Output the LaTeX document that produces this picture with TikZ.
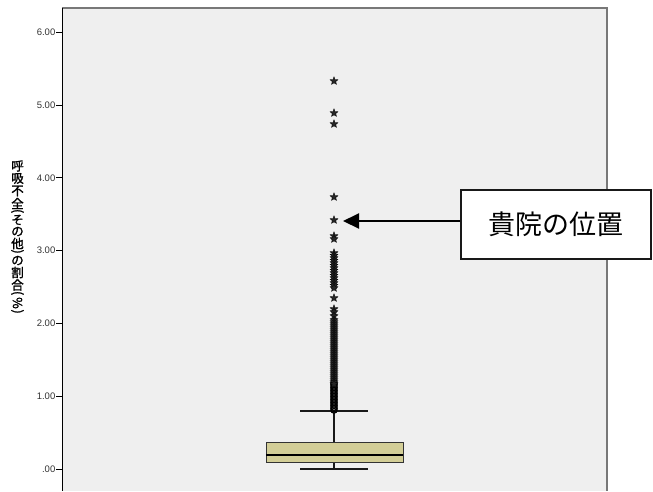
\documentclass[tikz,border=0pt]{standalone}
\usepackage{fontspec}
\usepackage{graphicx}
\setmainfont{Liberation Sans}
\newfontfamily\jp{Noto Sans CJK JP}
\newfontfamily\jpb{Noto Sans CJK JP}[FakeBold=1.5]
\usetikzlibrary{shapes.geometric,arrows.meta}
\definecolor{plotbg}{RGB}{239,239,239}
\definecolor{framegray}{RGB}{120,120,120}
\definecolor{boxtan}{RGB}{211,206,151}
\newcommand\vrot[1]{\rotatebox[origin=c]{-90}{#1}}
\tikzset{
  ticklab/.style={anchor=east, inner sep=0pt, font=\fontsize{9.5}{11}\selectfont, text=black!80},
  ylab/.style={inner sep=0pt, font=\jpb\fontsize{12.5}{14}\selectfont},
  starpt/.style={star, star points=5, star point ratio=2.3, minimum size=8.5pt, inner sep=0pt, fill=black!85, draw=black, line width=0.3pt},
  circpt/.style={circle, minimum size=6.5pt, inner sep=0pt, draw=black, line width=1pt},
  whisker/.style={line width=1.2pt, draw=black!90},
  callout/.style={draw=black!90, line width=1.6pt, fill=white, minimum width=190pt, minimum height=69pt, inner sep=0pt, font=\jp\fontsize{27}{31}\selectfont},
  arrowline/.style={line width=2pt, -{Triangle[length=16pt,width=15pt]}}
}
\begin{document}
\begin{tikzpicture}[x=1pt,y=-1pt]
\useasboundingbox (0,0) rectangle (653,491);
\fill[white] (0,0) rectangle (653,491);
% plot area
\fill[plotbg] (62,8) rectangle (607,491);
\draw[framegray, line width=2pt] (62,8) -- (607,8) -- (607,491);
\draw[black, line width=1pt] (62,8) -- (62,491);
% ticks
\foreach \v/\lab [count=\i] in {0/.00,1/1.00,2/2.00,3/3.00,4/4.00,5/5.00,6/6.00} {
  \draw[black, line width=1pt] (56,469-72.8*\v) -- (62,469-72.8*\v);
  \node[ticklab] (tick\i) at (55.5,469-72.8*\v) {\lab};
}
% y axis label (vertical)
\node[ylab] (l1) at (17.5,166) {呼};
\node[ylab] (l2) at (17.5,178.5) {吸};
\node[ylab] (l3) at (17.5,191) {不};
\node[ylab] (l4) at (17.5,203.5) {全};
\node[ylab] (l5) at (17.5,212) {\vrot{(}};
\node[ylab] (l6) at (17.5,220) {そ};
\node[ylab] (l7) at (17.5,231.5) {の};
\node[ylab] (l8) at (17.5,243.5) {他};
\node[ylab] (l9) at (17.5,252.5) {\vrot{)}};
\node[ylab] (l10) at (17.5,260.5) {の};
\node[ylab] (l11) at (17.5,272.5) {割};
\node[ylab] (l12) at (17.5,285) {合};
\node[ylab] (l13) at (17.5,294) {\vrot{(}};
\node[ylab] (l14) at (17.5,303) {\vrot{\%}};
\node[ylab] (l15) at (17.5,312.5) {\vrot{)}};
% box plot
\draw[whisker] (334,411) -- (334,442);
\draw[whisker] (334,462) -- (334,469);
\draw[whisker] (300,411) -- (368,411);
\draw[whisker] (300,469) -- (368,469);
\filldraw[fill=boxtan, draw=black!80, line width=1pt] (266,442) rectangle (403,462);
\draw[black, line width=2.8pt] (266,455) -- (403,455);
% outliers (circles)
\foreach \yy [count=\i] in {383,384.5,...,411} {
  \node[circpt] (c\i) at (334,\yy) {};
}
% extreme values (stars)
\foreach \yy [count=\i] in {81,113,124,197,220,236,239,298,309,312,316} {
  \node[starpt] (s\i) at (334,\yy) {};
}
\foreach \yy [count=\i] in {253,255.5,...,290} {
  \node[starpt] (sa\i) at (334,\yy) {};
}
\foreach \yy [count=\i] in {320,322,...,384} {
  \node[starpt] (sb\i) at (334,\yy) {};
}
% callout
\node[callout] (callout) at (556,224.5) {貴院の位置\hspace{12pt}};
\coordinate (target) at (343,221);
\draw[arrowline] (callout.west |- target) -- (target);
\end{tikzpicture}
\end{document}
